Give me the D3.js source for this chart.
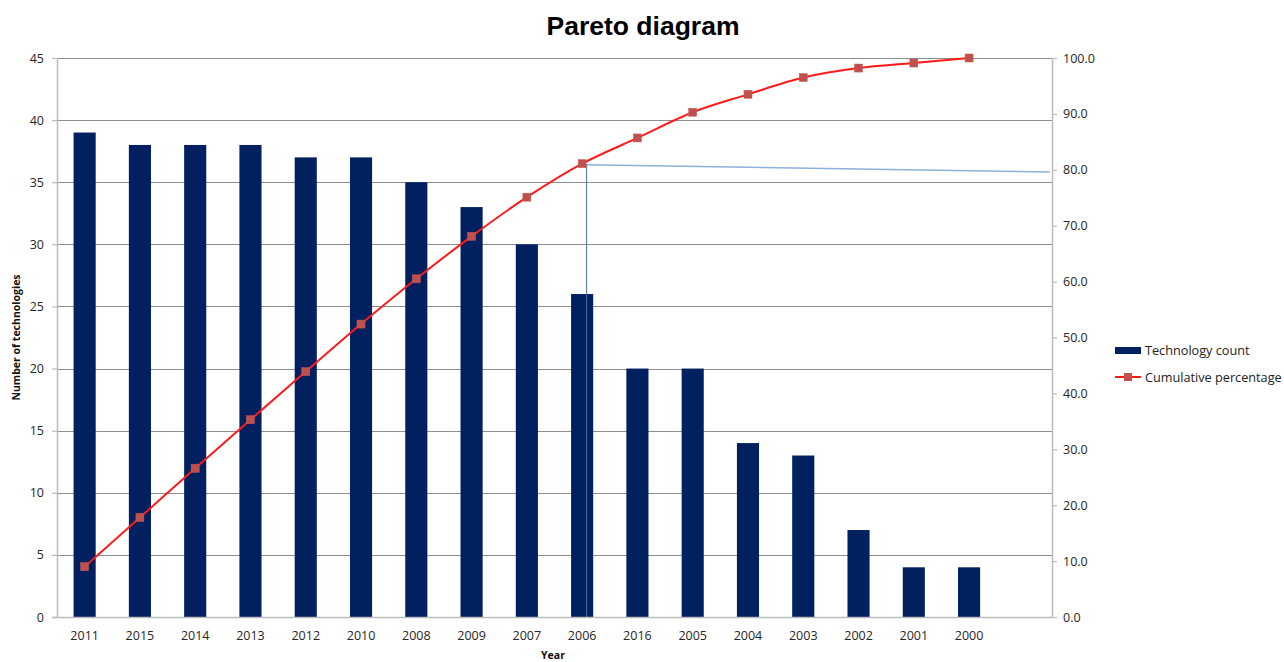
<!DOCTYPE html>
<html>
<head>
<meta charset="utf-8">
<script src="https://cdn.jsdelivr.net/npm/d3@7"></script>
<style>
  html, body { margin: 0; padding: 0; background: #fff; }
  svg { display: block; }
</style>
</head>
<body>
<svg id="chart" width="1284" height="662"></svg>
<script>
// ---- data ----
const categories = ["2011","2015","2014","2013","2012","2010","2008","2009","2007","2006","2016","2005","2004","2003","2002","2001","2000"];
const technologyCount = [39,38,38,38,37,37,35,33,30,26,20,20,14,13,7,4,4];
const cumulativePercentage = [9.0,17.8,26.6,35.3,43.9,52.4,60.5,68.1,75.1,81.1,85.7,90.3,93.5,96.5,98.2,99.1,100.0];
const leftTicks = [0,5,10,15,20,25,30,35,40,45];
const rightTicks = [0,10,20,30,40,50,60,70,80,90,100];
const annotationCategory = "2006";
const annotationStartPct = 80.9;
const annotationEndPct = 79.6;
const titleText = "Pareto diagram";
const yTitle = "Number of technologies";
const xTitle = "Year";
const legendLabels = ["Technology count", "Cumulative percentage"];

// ---- layout ----
const svg = d3.select("#chart");
const L = 57, R = 1052, T = 58, B = 617;
const slots = categories.length + 1;
const font = "'Open Sans', 'DejaVu Sans', sans-serif";

const x = d3.scaleBand().domain(categories)
  .range([L, L + (R - L) * categories.length / slots])
  .paddingInner(0.6).paddingOuter(0.3);
const yL = d3.scaleLinear().domain([0, 45]).range([B, T]);
const yR = d3.scaleLinear().domain([0, 100]).range([B, T]);

// gridlines
svg.append("g").selectAll("line").data(leftTicks.filter(d => d > 0)).join("line")
  .attr("x1", L).attr("x2", R)
  .attr("y1", d => Math.round(yL(d)) + 0.5).attr("y2", d => Math.round(yL(d)) + 0.5)
  .attr("stroke", "#8e8e8e").attr("stroke-width", 1);

// bars
svg.append("g").selectAll("rect").data(categories).join("rect")
  .attr("x", d => x(d)).attr("width", x.bandwidth())
  .attr("y", (d, i) => yL(technologyCount[i]))
  .attr("height", (d, i) => B - yL(technologyCount[i]))
  .attr("fill", "#002060");

// annotation lines
const ax = x(annotationCategory) + x.bandwidth() / 2 + 4;
svg.append("line")
  .attr("x1", ax + 0.5).attr("x2", ax + 0.5)
  .attr("y1", yR(annotationStartPct)).attr("y2", B)
  .attr("stroke", "#4f6f98").attr("stroke-width", 1);
svg.append("line")
  .attr("x1", ax).attr("x2", R - 2)
  .attr("y1", yR(annotationStartPct)).attr("y2", yR(annotationEndPct))
  .attr("stroke", "#8db0dc").attr("stroke-width", 1.5);

// axes
const axisColor = "#bcbcbc";
const gLeft = svg.append("g").attr("transform", `translate(${L},0)`)
  .call(d3.axisLeft(yL).tickValues(leftTicks).tickSize(5).tickPadding(8).tickFormat(d3.format("d")));
const gRight = svg.append("g").attr("transform", `translate(${R},0)`)
  .call(d3.axisRight(yR).tickValues(rightTicks).tickSize(5).tickPadding(6).tickFormat(d3.format(".1f")));
const gBottom = svg.append("g").attr("transform", `translate(0,${B})`)
  .call(d3.axisBottom(x).tickSize(0).tickPadding(14));
gBottom.select(".domain").remove();
svg.append("line").attr("x1", L - 5).attr("x2", R).attr("y1", B + 0.5).attr("y2", B + 0.5)
  .attr("stroke", axisColor).attr("stroke-width", 1.5);

[gLeft, gRight, gBottom].forEach(g => {
  g.selectAll(".domain").attr("stroke", axisColor).attr("stroke-width", 1.5);
  g.selectAll(".tick line").attr("stroke", axisColor).attr("stroke-width", 1.2);
  g.selectAll(".tick text").attr("fill", "#262626").attr("font-family", font).attr("font-size", "12.5px");
});
gLeft.selectAll(".domain").attr("d", `M0.5,${T}V${B}`);
gRight.selectAll(".domain").attr("d", `M0.5,${T}V${B}`);

// cumulative line
const line = d3.line()
  .x((d, i) => x(categories[i]) + x.bandwidth() / 2)
  .y(d => yR(d))
  .curve(d3.curveMonotoneX);
svg.append("path").datum(cumulativePercentage)
  .attr("d", line).attr("fill", "none").attr("stroke", "#ff1a1a").attr("stroke-width", 2);
svg.append("g").selectAll("rect").data(cumulativePercentage).join("rect")
  .attr("x", (d, i) => x(categories[i]) + x.bandwidth() / 2 - 4)
  .attr("y", d => yR(d) - 4)
  .attr("width", 8).attr("height", 8)
  .attr("fill", "#c0504d").attr("stroke", "#c55a58").attr("stroke-width", 0.5);

// titles
svg.append("text").attr("x", 643).attr("y", 35).attr("text-anchor", "middle")
  .attr("font-family", "'Liberation Sans', Arial, sans-serif").attr("font-weight", "bold")
  .attr("font-size", "26.5px").attr("fill", "#000").text(titleText);
svg.append("text").attr("transform", `translate(20,${(T + B) / 2}) rotate(-90)`)
  .attr("text-anchor", "middle").attr("font-family", font).attr("font-weight", "bold")
  .attr("font-size", "10.5px").attr("fill", "#111").text(yTitle);
svg.append("text").attr("x", 553).attr("y", 659).attr("text-anchor", "middle")
  .attr("font-family", font).attr("font-weight", "bold")
  .attr("font-size", "10.5px").attr("fill", "#111").text(xTitle);

// legend
const lg = svg.append("g").attr("transform", "translate(1115,350)");
lg.append("rect").attr("x", 0).attr("y", -3).attr("width", 26).attr("height", 7).attr("fill", "#002060");
lg.append("text").attr("x", 30).attr("y", 5).attr("font-family", font).attr("font-size", "12.7px")
  .attr("fill", "#222").text(legendLabels[0]);
lg.append("line").attr("x1", 0).attr("x2", 26).attr("y1", 27).attr("y2", 27)
  .attr("stroke", "#ff1a1a").attr("stroke-width", 2);
lg.append("rect").attr("x", 9).attr("y", 23).attr("width", 8).attr("height", 8).attr("fill", "#c0504d");
lg.append("text").attr("x", 30).attr("y", 32).attr("font-family", font).attr("font-size", "12.7px")
  .attr("fill", "#222").text(legendLabels[1]);
</script>
</body>
</html>
